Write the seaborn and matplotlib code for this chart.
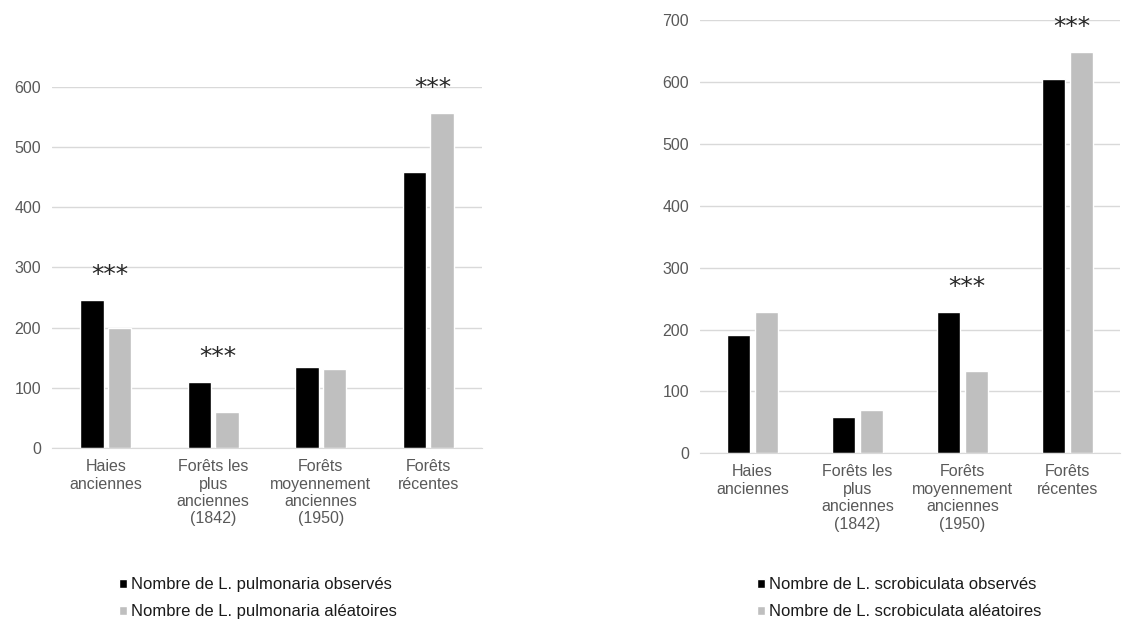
import numpy as np
import pandas as pd
import matplotlib
matplotlib.use('Agg')
import matplotlib.pyplot as plt
import seaborn as sns

categories = ['Haies\nanciennes', 'Forêts les\nplus\nanciennes\n(1842)',
              'Forêts\nmoyennement\nanciennes\n(1950)', 'Forêts\nrécentes']

pulmo_obs = [246, 109, 134, 459]
pulmo_rand = [199, 59, 131, 557]
pulmo_labels = ['Nombre de L. pulmonaria observés', 'Nombre de L. pulmonaria aléatoires']
pulmo_signif = [0, 1, 3]

scrob_obs = [191, 58, 229, 605]
scrob_rand = [229, 70, 133, 649]
scrob_labels = ['Nombre de L. scrobiculata observés', 'Nombre de L. scrobiculata aléatoires']
scrob_signif = [2, 3]

colors = ['#000000', '#bfbfbf']

sns.set_style('white')
plt.rcParams['font.family'] = ['Liberation Sans', 'DejaVu Sans']

fig = plt.figure(figsize=(11.22, 6.2), dpi=100)


def draw(ax, obs, rand, labels, signif, ymax, step, leg_anchor):
    df = pd.DataFrame({
        'cat': categories * 2,
        'val': obs + rand,
        'serie': [labels[0]] * len(obs) + [labels[1]] * len(rand),
    })
    sns.barplot(data=df, x='cat', y='val', hue='serie', palette=colors,
                width=0.515, gap=0.15, ax=ax, legend=True, saturation=1)
    ax.set_ylim(0, ymax)
    ax.set_xlim(-0.5, 3.5)
    ax.set_yticks(np.arange(0, ymax + 1, step))
    ax.yaxis.grid(True, color='#d9d9d9', linewidth=1)
    ax.set_axisbelow(True)
    for s in ['top', 'right', 'left']:
        ax.spines[s].set_visible(False)
    ax.spines['bottom'].set_color('#d9d9d9')
    ax.tick_params(axis='both', length=0, labelsize=11.5, labelcolor='#595959')
    ax.tick_params(axis='y', pad=8)
    ax.tick_params(axis='x', pad=8)
    ax.set_xlabel('')
    ax.set_ylabel('')
    # significance stars
    for i in signif:
        top = max(obs[i], rand[i])
        ax.annotate('***', xy=(i, top), xytext=(3, 18), textcoords='offset points',
                    ha='center', va='center', fontsize=18, color='#262626',
                    family='DejaVu Sans', annotation_clip=False)
    leg = ax.legend(loc='upper left', bbox_to_anchor=leg_anchor,
                    bbox_transform=fig.transFigure, frameon=False,
                    fontsize=12, handlelength=0.45, handleheight=0.45,
                    handletextpad=0.25, labelspacing=0.7, borderpad=0)
    for t in leg.get_texts():
        t.set_color('#1a1a1a')


ax1 = fig.add_axes([52 / 1122, 1 - 448 / 620, 430 / 1122, 361.3 / 620])
draw(ax1, pulmo_obs, pulmo_rand, pulmo_labels, pulmo_signif, 600, 100,
     (111 / 1122, 1 - 569 / 620))

ax2 = fig.add_axes([700 / 1122, 1 - 453.3 / 620, 420 / 1122, 433.3 / 620])
draw(ax2, scrob_obs, scrob_rand, scrob_labels, scrob_signif, 700, 100,
     (749 / 1122, 1 - 569 / 620))

fig.savefig('out.png', dpi=100)
